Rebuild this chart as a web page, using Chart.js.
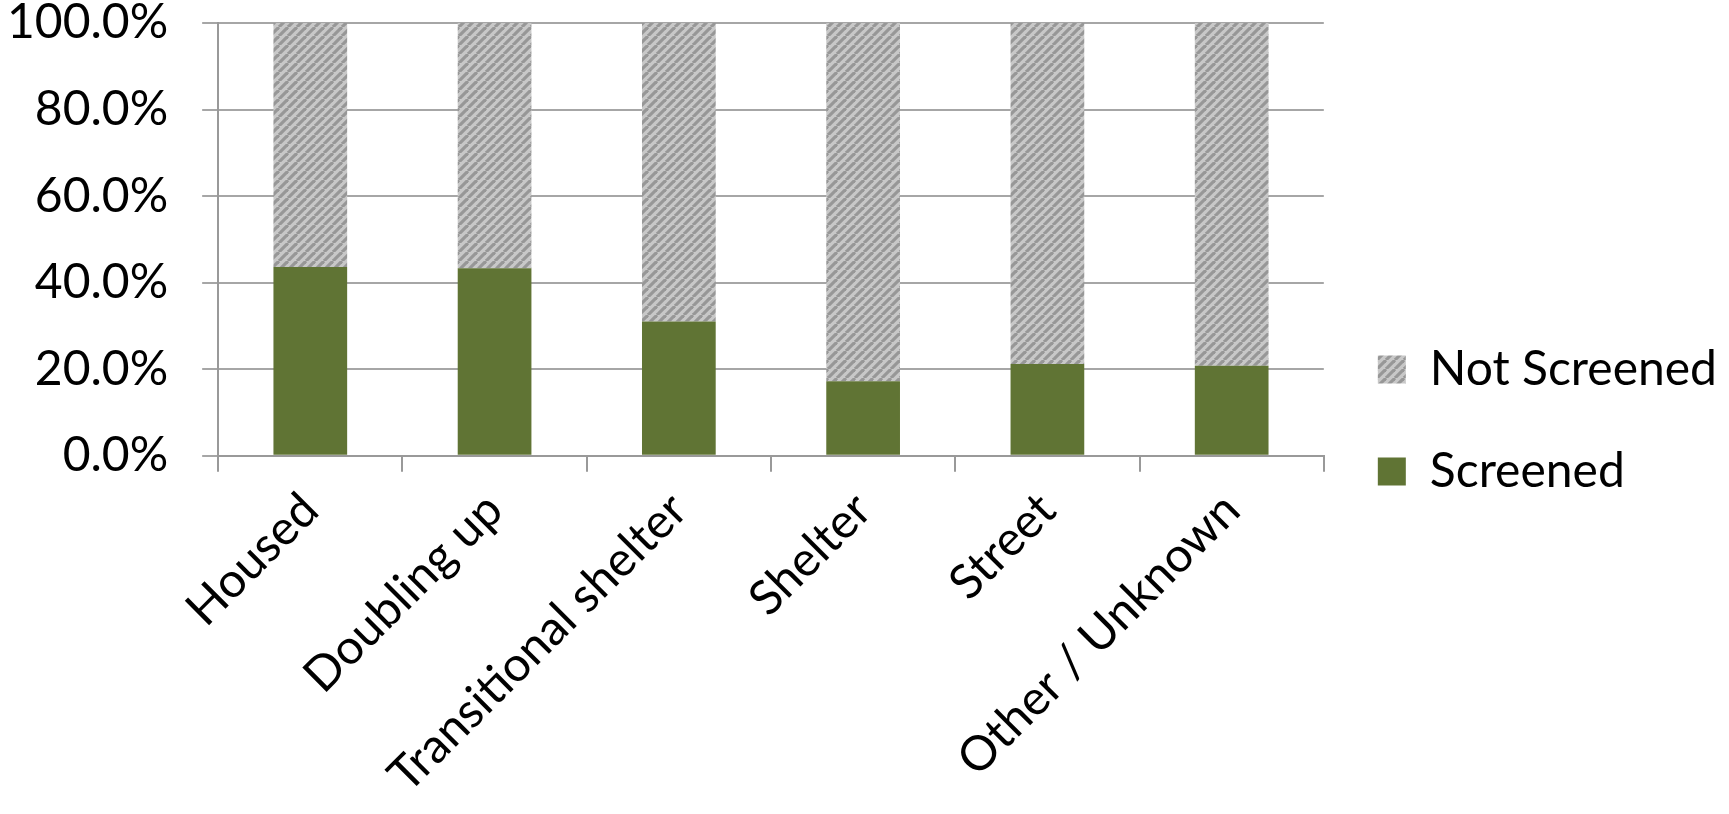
<!DOCTYPE html>
<html>
<head>
<meta charset="utf-8">
<script src="https://cdn.jsdelivr.net/npm/chart.js@4"></script>
<style>
  html, body { margin: 0; padding: 0; background: #fff; }
  #wrap { width: 1729px; height: 814px; }
</style>
</head>
<body>
<div id="wrap"><canvas id="chart" width="1729" height="814"></canvas></div>
<script>
const categories = ['Housed', 'Doubling up', 'Transitional shelter', 'Shelter', 'Street', 'Other / Unknown'];
const screened = [43.6, 43.3, 31.0, 17.2, 21.2, 20.8];
const notScreened = [56.4, 56.7, 69.0, 82.8, 78.8, 79.2];
const yTicks = [0, 20, 40, 60, 80, 100];

const FONT = 'Lato, "Open Sans", sans-serif';

function makeHatch() {
  const s = 9;
  const c = document.createElement('canvas');
  c.width = s; c.height = s;
  const g = c.getContext('2d');
  g.fillStyle = '#c8c8c8';
  g.fillRect(0, 0, s, s);
  g.strokeStyle = '#979797';
  g.lineWidth = 3.2;
  for (const off of [-s, 0, s]) {
    g.beginPath();
    g.moveTo(off, s);
    g.lineTo(off + s, 0);
    g.stroke();
  }
  return g.createPattern(c, 'repeat');
}

const hatch = makeHatch();

new Chart(document.getElementById('chart'), {
  type: 'bar',
  data: {
    labels: categories,
    datasets: [
      { label: 'Screened', data: screened, backgroundColor: '#607434', borderWidth: 0 },
      { label: 'Not Screened', data: notScreened, backgroundColor: hatch, borderWidth: 0 },
    ],
  },
  options: {
    responsive: false,
    animation: false,
    layout: { padding: { top: 0, right: 2, left: -27, bottom: 0 } },
    datasets: { bar: { barPercentage: 0.4, categoryPercentage: 1.0 } },
    scales: {
      x: {
        stacked: true,
        border: { color: '#999', width: 2 },
        grid: { drawOnChartArea: false, offset: true, tickLength: 16, color: '#999', lineWidth: 2 },
        ticks: { color: '#000', font: { family: FONT, size: 48 }, minRotation: 45, maxRotation: 45, padding: 10 },
      },
      y: {
        stacked: true,
        min: 0,
        max: 100,
        afterBuildTicks: (axis) => { axis.ticks = yTicks.map((v) => ({ value: v })); },
        // tick padding would otherwise also push the plot top down
        afterFit: (axis) => { axis.paddingTop = 23; },
        border: { color: '#999', width: 2 },
        grid: { color: '#a6a6a6', lineWidth: 2, tickLength: 16 },
        ticks: {
          color: '#000',
          font: { family: FONT, size: 48 },
          padding: 34,
          callback: (v) => v.toFixed(1) + '%',
        },
      },
    },
    plugins: {
      tooltip: { enabled: false },
      legend: {
        position: 'right',
        reverse: true,
        title: { display: true, text: ' ', font: { size: 1 }, padding: { top: 0, bottom: 26 } },
        labels: {
          color: '#000',
          font: { family: FONT, size: 48 },
          boxWidth: 28,
          boxHeight: 28,
          padding: 54,
        },
      },
    },
  },
});
</script>
</body>
</html>
